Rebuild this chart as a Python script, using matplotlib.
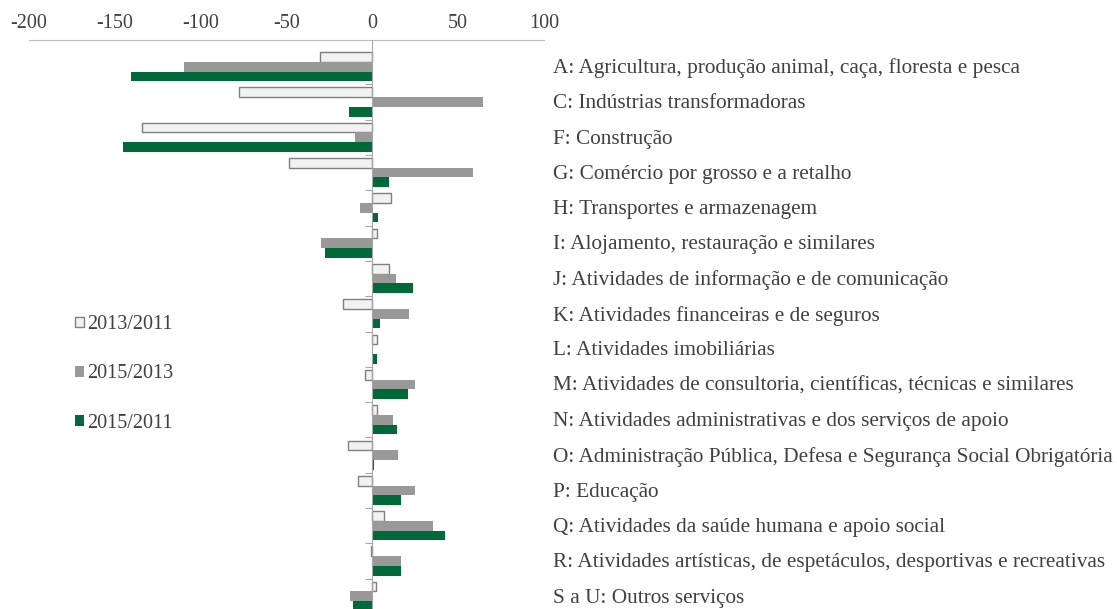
import matplotlib.pyplot as plt
from matplotlib.patches import Patch


CATEGORIES = ['A: Agricultura, produção animal, caça, floresta e pesca',
              'C: Indústrias transformadoras',
              'F: Construção',
              'G: Comércio por grosso e a retalho',
              'H: Transportes e armazenagem',
              'I: Alojamento, restauração e similares',
              'J: Atividades de informação e de comunicação',
              'K: Atividades financeiras e de seguros',
              'L: Atividades imobiliárias',
              'M: Atividades de consultoria, científicas, técnicas e similares',
              'N: Atividades administrativas e dos serviços de apoio',
              'O: Administração Pública, Defesa e Segurança Social Obrigatória',
              'P: Educação',
              'Q: Atividades da saúde humana e apoio social',
              'R: Atividades artísticas, de espetáculos, desportivas e recreativas',
              'S a U: Outros serviços']

V_2013_2011 = [-30.5, -77.6, -134.3, -48.5, 10.8, 2.7, 9.5, -17.0,
               2.9, -4.3, 2.7, -14.0, -8.2, 7.0, -0.8, 2.1]
V_2015_2013 = [-109.7, 64.5, -10.3, 58.6, -7.4, -30.0, 14.0, 21.4,
               0.0, 25.0, 12.0, 14.8, 25.0, 35.5, 16.7, -13.2]
V_2015_2011 = [-140.8, -13.6, -145.0, 9.7, 3.1, -27.6, 23.4, 4.3,
               3.0, 21.0, 14.4, 0.8, 16.7, 42.5, 16.7, -11.0]

XTICKS = [-200, -150, -100, -50, 0, 50, 100]

TEXT_COLOR = '#404040'
FONT = 'Liberation Serif'

plt.rcParams['font.family'] = FONT

fig = plt.figure(figsize=(11.17, 6.09), dpi=100)
# axes placed so that the last category runs off the bottom edge like the original
ax = fig.add_axes([29 / 1117, 1 - 614 / 609, 515 / 1117, (614 - 40) / 609])

n = len(CATEGORIES)
pos = list(range(n))
h = 0.275

ax.barh([p - h for p in pos], V_2013_2011, height=h, color='#f2f2f2',
        edgecolor='#7f7f7f', linewidth=1.0, label='2013/2011', zorder=2)
ax.barh(pos, V_2015_2013, height=h, color='#999999', label='2015/2013', zorder=2)
ax.barh([p + h for p in pos], V_2015_2011, height=h, color='#00693a',
        label='2015/2011', zorder=2)

ax.set_xlim(-200, 100)
ax.set_ylim(15.5, -0.755)

# x axis on top, no tick marks
ax.xaxis.tick_top()
ax.set_xticks(XTICKS)
ax.set_xticklabels([str(t) for t in XTICKS])
ax.tick_params(axis='x', length=0, pad=5, labelsize=14.5, labelcolor=TEXT_COLOR)

# category axis at zero with separator ticks
ax.spines['left'].set_position(('data', 0))
ax.spines['left'].set_color('#a6a6a6')
ax.spines['left'].set_zorder(3)
ax.spines['top'].set_color('#bfbfbf')
ax.spines['right'].set_visible(False)
ax.spines['bottom'].set_visible(False)
ax.set_yticks([p + 0.5 for p in pos])
ax.set_yticklabels([])
ax.tick_params(axis='y', length=5, color='#a6a6a6', direction='out')

# category names to the right of the plot
for p, name in zip(pos, CATEGORIES):
    ax.text(1.017, p + 0.05, name, transform=ax.get_yaxis_transform(),
            ha='left', va='center', fontsize=15.3, color=TEXT_COLOR, clip_on=False)

handles = [Patch(facecolor='#f2f2f2', edgecolor='#7f7f7f', linewidth=1.0),
           Patch(facecolor='#999999'),
           Patch(facecolor='#00693a')]
fig.legend(handles, ['2013/2011', '2015/2013', '2015/2011'],
           loc='upper left', bbox_to_anchor=(57 / 1117, 1 - 297 / 609),
           frameon=False, fontsize=14.5, labelcolor=TEXT_COLOR,
           handlelength=0.45, handleheight=0.45, handletextpad=0.15,
           labelspacing=1.5)

fig.savefig('out.png', dpi=100)
